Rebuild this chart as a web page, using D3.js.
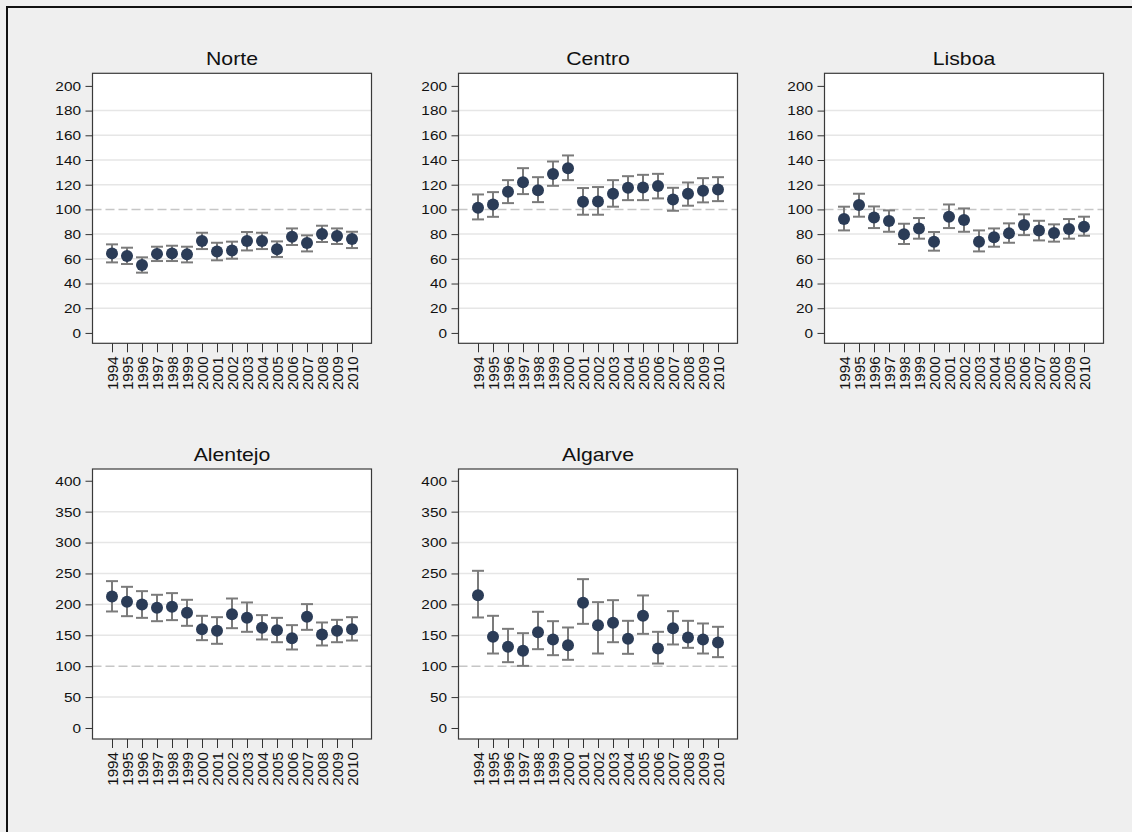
<!DOCTYPE html>
<html>
<head>
<meta charset="utf-8">
<script src="https://cdn.jsdelivr.net/npm/d3@7"></script>
<style>
  html, body { margin: 0; padding: 0; background: #efefef; }
  svg { display: block; }
  text { font-family: "Liberation Sans", Arial, sans-serif; fill: #111; }
</style>
</head>
<body>
<svg id="chart" width="1132" height="832"></svg>
<script>
// Years on the x axis of every panel
const years = [1994, 1995, 1996, 1997, 1998, 1999, 2000, 2001, 2002, 2003, 2004, 2005, 2006, 2007, 2008, 2009, 2010];

// Regions, in panel order
const regions = ["Norte", "Centro", "Lisboa", "Alentejo", "Algarve"];

// Point estimates per region
const norteEst   = [64.4, 62.3, 55.0, 64.0, 64.4, 63.6, 74.4, 66.0, 66.8, 74.4, 74.4, 67.7, 77.9, 72.8, 80.0, 78.4, 76.0];
const centroEst  = [101.3, 104.0, 114.3, 122.0, 115.6, 128.6, 133.4, 106.2, 106.5, 112.7, 117.5, 117.8, 118.9, 108.1, 112.7, 115.1, 116.2];
const lisboaEst  = [92.2, 103.5, 93.5, 90.6, 79.8, 84.6, 73.9, 94.1, 91.4, 73.9, 77.4, 80.6, 87.3, 83.0, 80.9, 84.1, 86.0];
const alentejoEst = [212.8, 204.1, 199.8, 194.4, 196.0, 186.3, 159.9, 157.2, 184.2, 178.2, 162.0, 158.3, 145.3, 179.9, 151.3, 157.2, 159.9];
const algarveEst = [214.9, 147.5, 131.3, 124.8, 155.0, 143.2, 134.0, 202.5, 166.4, 170.1, 144.2, 181.5, 128.6, 161.5, 146.4, 143.2, 138.3];

// Upper confidence limits
const norteHi    = [71.7, 69.0, 61.2, 69.8, 70.6, 69.8, 81.1, 73.0, 73.9, 81.7, 81.1, 74.1, 84.6, 79.0, 86.8, 84.6, 81.9];
const centroHi   = [112.1, 114.0, 123.7, 133.4, 126.1, 138.8, 143.7, 117.3, 118.1, 123.7, 126.9, 128.0, 128.8, 117.5, 121.8, 125.3, 126.1];
const lisboaHi   = [102.2, 112.7, 102.4, 99.2, 88.4, 93.0, 81.7, 104.0, 100.8, 83.0, 84.6, 88.7, 96.0, 90.8, 87.9, 92.2, 94.1];
const alentejoHi = [237.6, 228.4, 221.4, 215.5, 218.2, 207.4, 181.5, 179.3, 209.5, 203.1, 182.6, 178.2, 166.4, 200.4, 170.7, 175.0, 179.3];
const algarveHi  = [254.3, 181.5, 160.4, 153.4, 188.0, 172.8, 162.6, 240.8, 203.6, 206.8, 173.4, 214.4, 155.6, 189.0, 173.4, 169.1, 163.7];

// Lower confidence limits
const norteLo    = [57.1, 55.8, 48.8, 58.2, 58.2, 57.1, 67.9, 58.8, 60.1, 66.8, 67.9, 61.5, 71.2, 66.0, 73.6, 72.0, 68.7];
const centroLo   = [91.9, 94.0, 105.1, 112.4, 105.9, 119.1, 123.7, 95.7, 95.7, 102.2, 107.5, 107.5, 108.9, 98.9, 103.0, 105.7, 106.7];
const lisboaLo   = [83.0, 94.1, 84.9, 81.9, 72.0, 76.3, 66.6, 84.9, 81.9, 66.0, 69.8, 73.0, 79.2, 74.9, 73.9, 76.3, 78.7];
const alentejoLo = [188.5, 180.9, 178.2, 172.8, 174.5, 165.3, 142.1, 136.2, 161.5, 155.6, 143.2, 138.8, 127.0, 158.8, 133.5, 138.8, 141.5];
const algarveLo  = [178.8, 120.5, 106.5, 100.5, 127.5, 117.8, 110.3, 168.5, 120.5, 138.8, 120.0, 152.3, 104.3, 135.1, 129.7, 120.5, 114.6];

// Y tick values for the two rows of panels
const ticksTop = [0, 20, 40, 60, 80, 100, 120, 140, 160, 180, 200];
const ticksBottom = [0, 50, 100, 150, 200, 250, 300, 350, 400];

// Reference level drawn as a dashed line
const refLevel = 100;

const estimates = [norteEst, centroEst, lisboaEst, alentejoEst, algarveEst];
const uppers = [norteHi, centroHi, lisboaHi, alentejoHi, algarveHi];
const lowers = [norteLo, centroLo, lisboaLo, alentejoLo, algarveLo];

const svg = d3.select("#chart");
const fontFamily = "Liberation Sans, Arial, sans-serif";
const stretch = 1.13; // slightly widened lettering

// Outer frame (open on the right and bottom)
svg.append("path")
  .attr("d", "M7,832 V7 H1132")
  .attr("fill", "none")
  .attr("stroke", "#111")
  .attr("stroke-width", 2);

const plotW = 279, plotH = 270;
const colX = [92.5, 458.5, 824.5];
const rowY = [73.3, 469];

const pointColor = "#2b3c57";
const barColor = "#7b7b7b";

regions.forEach((name, i) => {
  const row = i < 3 ? 0 : 1;
  const col = i < 3 ? i : i - 3;
  const x0 = colX[col], y0 = rowY[row];
  const ticks = row === 0 ? ticksTop : ticksBottom;
  const yDomain = row === 0 ? [-8.4, 210.2] : [-17.8, 419];

  const g = svg.append("g").attr("transform", `translate(${x0},${y0})`);

  const x = d3.scaleLinear().domain([1992.7, 2011.3]).range([0, plotW]);
  const y = d3.scaleLinear().domain(yDomain).range([plotH, 0]);

  // plot background
  g.append("rect")
    .attr("width", plotW).attr("height", plotH)
    .attr("fill", "#fff");

  // horizontal grid lines at inner ticks
  g.selectAll("line.grid")
    .data(ticks.filter(t => t !== ticks[0] && t !== ticks[ticks.length - 1] && t !== refLevel))
    .join("line")
    .attr("class", "grid")
    .attr("x1", 0).attr("x2", plotW)
    .attr("y1", d => y(d)).attr("y2", d => y(d))
    .attr("stroke", "#e6e6e6")
    .attr("stroke-width", 1.5);

  // dashed reference line
  g.append("line")
    .attr("x1", 0).attr("x2", plotW)
    .attr("y1", y(refLevel)).attr("y2", y(refLevel))
    .attr("stroke", "#c6c6c6")
    .attr("stroke-width", 1.5)
    .attr("stroke-dasharray", "9,4");

  // plot frame
  g.append("rect")
    .attr("width", plotW).attr("height", plotH)
    .attr("fill", "none")
    .attr("stroke", "#3a3a3a")
    .attr("stroke-width", 1.2);

  // y axis
  const yAxis = g.append("g")
    .call(d3.axisLeft(y).tickValues(ticks).tickSize(7).tickPadding(4));
  yAxis.select(".domain").remove();
  yAxis.selectAll(".tick line").attr("stroke", "#333");
  yAxis.selectAll(".tick text")
    .style("font-size", "13.6px")
    .style("font-family", fontFamily)
    .attr("fill", "#111")
    .attr("x", 0)
    .attr("transform", `translate(-11.5,0) scale(${stretch},1)`);

  // x axis with vertical year labels
  const xAxis = g.append("g")
    .attr("transform", `translate(0,${plotH})`)
    .call(d3.axisBottom(x).tickValues(years).tickFormat(d3.format("d")).tickSize(9));
  xAxis.select(".domain").remove();
  xAxis.selectAll(".tick line").attr("stroke", "#333");
  xAxis.selectAll(".tick text")
    .style("font-size", "14.2px")
    .style("font-family", fontFamily)
    .attr("fill", "#111")
    .attr("transform", "rotate(-90) translate(-13,0) scale(1.07,1)")
    .attr("text-anchor", "end")
    .attr("x", 0)
    .attr("y", 0)
    .attr("dy", "0.36em");

  // panel title
  g.append("text")
    .attr("transform", `translate(${plotW / 2},-8) scale(${stretch},1)`)
    .attr("text-anchor", "middle")
    .style("font-size", "18.8px")
    .style("font-family", fontFamily)
    .text(name);

  const data = years.map((yr, k) => ({
    year: yr, est: estimates[i][k], hi: uppers[i][k], lo: lowers[i][k]
  }));

  // confidence intervals with caps
  const cap = 6;
  const bars = g.selectAll("g.ci").data(data).join("g").attr("class", "ci");
  bars.append("line")
    .attr("x1", d => x(d.year)).attr("x2", d => x(d.year))
    .attr("y1", d => y(d.hi)).attr("y2", d => y(d.lo))
    .attr("stroke", barColor).attr("stroke-width", 2);
  bars.append("line")
    .attr("x1", d => x(d.year) - cap).attr("x2", d => x(d.year) + cap)
    .attr("y1", d => y(d.hi)).attr("y2", d => y(d.hi))
    .attr("stroke", barColor).attr("stroke-width", 2);
  bars.append("line")
    .attr("x1", d => x(d.year) - cap).attr("x2", d => x(d.year) + cap)
    .attr("y1", d => y(d.lo)).attr("y2", d => y(d.lo))
    .attr("stroke", barColor).attr("stroke-width", 2);

  // point estimates
  g.selectAll("circle.pt").data(data).join("circle")
    .attr("class", "pt")
    .attr("cx", d => x(d.year))
    .attr("cy", d => y(d.est))
    .attr("r", 6)
    .attr("fill", pointColor);
});
</script>
</body>
</html>
